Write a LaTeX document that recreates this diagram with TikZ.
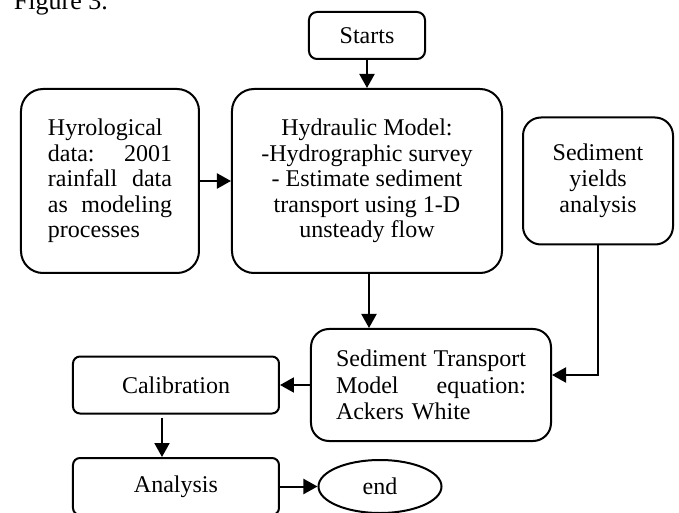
\documentclass[tikz,border=0pt]{standalone}
\usepackage{fontspec}
\setmainfont{Liberation Serif}
\usepackage{tikz}
\usetikzlibrary{positioning,arrows.meta,shapes.geometric}

\begin{document}
\begin{tikzpicture}[
    >={Triangle[length=7pt,width=7.5pt]},
    line width=1pt,
    every node/.style={font=\fontsize{12}{12.7}\selectfont},
    procbox/.style={draw,rounded corners=#1,inner sep=0pt},
    procbox/.default=4pt,
    endbox/.style={draw,ellipse,inner sep=0pt,minimum width=61.5pt,minimum height=26.5pt}
]

\useasboundingbox (-183.5pt,90.5pt) rectangle (156pt,-166pt);

\node[anchor=base west,inner sep=0pt,font=\fontsize{13}{14}\selectfont]
(fig) at (-177pt,85.5pt) {Figure 3.};

\node[procbox=11pt,minimum width=135pt,minimum height=92pt,align=center]
(hydraulic)
{Hydraulic Model:\\-Hydrographic survey\\- Estimate sediment\\transport using 1-D\\unsteady flow};

\node[procbox=4pt,minimum width=58pt,minimum height=23.5pt,
above of=hydraulic,node distance=72.75pt]
(start) {Starts};

\node[procbox=11pt,minimum width=89pt,minimum height=92pt,
text width=62pt,align=left,
left of=hydraulic,node distance=128.5pt]
(hydro)
{Hyrological\\data:\hfill 2001\\rainfall\hfill data\\as\hfill modeling\\processes};

\node[procbox=9pt,minimum width=75pt,minimum height=63.5pt,align=center,
font=\fontsize{12}{13}\selectfont,
right of=hydraulic,node distance=115.5pt]
(yields)
{Sediment\\yields\\analysis};

\node[procbox=9pt,minimum width=120pt,minimum height=56pt,
text width=95pt,align=left,
font=\fontsize{12}{13.3}\selectfont,
below of=hydraulic,node distance=102pt,xshift=32pt]
(transport)
{Sediment\hfill Transport\\Model\hfill equation:\\Ackers White};

\node[procbox=3.5pt,minimum width=103pt,minimum height=28.5pt,
left of=transport,node distance=127.5pt]
(calib) {Calibration};

\node[procbox=3.5pt,minimum width=103pt,minimum height=28.5pt,
below of=calib,node distance=50.75pt]
(analysis) {Analysis};

\node[endbox,right of=analysis,node distance=102pt]
(end) {end};

% connectors
\draw[->] (start) -- (hydraulic);

\draw[->] (hydro) -- (hydraulic);

\draw[->] ([xshift=1pt]hydraulic.south) -- ([xshift=1pt]hydraulic.south |- transport.north);

\draw[->] (yields.south) |- ([yshift=5pt]transport.east);

\draw[->] (transport) -- (calib);

\draw[->,shorten <=1.5pt] ([xshift=-7pt]calib.south) -- ([xshift=-7pt]analysis.north);

\draw[->] (analysis) -- (end);

\end{tikzpicture}
\end{document}
